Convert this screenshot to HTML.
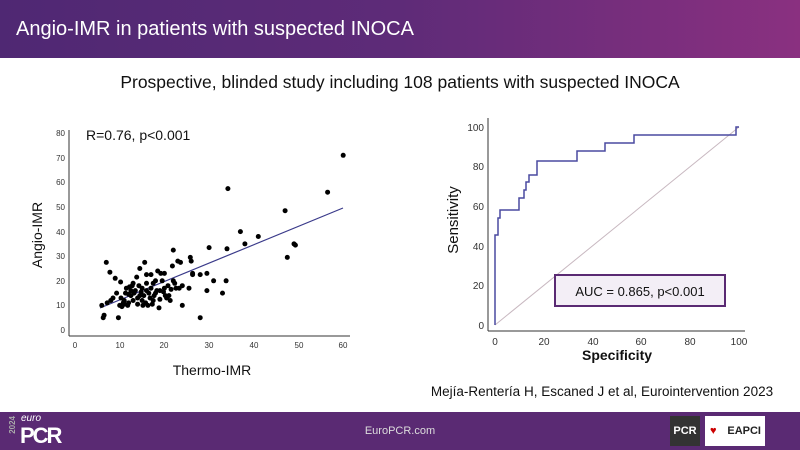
<!DOCTYPE html>
<html><head><meta charset="utf-8"><style>
body{margin:0;width:800px;height:450px;overflow:hidden;background:#fff;font-family:"Liberation Sans",sans-serif;position:relative}
.hdr{position:absolute;left:0;top:0;width:800px;height:58px;background:linear-gradient(90deg,#4f2873 0%,#5e2b78 50%,#8a3080 100%)}
.hdr span{position:absolute;left:16px;top:18px;color:#fff;font-size:20px}
.sub{position:absolute;left:0;width:800px;text-align:center;top:72px;font-size:17.5px;color:#111}
.ft{position:absolute;left:0;top:412px;width:800px;height:38px;background:#5a2a73}
</style></head><body>
<div class="hdr"><span>Angio-IMR in patients with suspected INOCA</span></div>
<div class="sub">Prospective, blinded study including 108 patients with suspected INOCA</div>
<svg width="800" height="450" style="position:absolute;left:0;top:0">
<g font-family="Liberation Sans" font-size="8" fill="#333">
<line x1="69" y1="130" x2="69" y2="336" stroke="#333"/>
<line x1="69" y1="336" x2="350" y2="336" stroke="#333"/>
<g text-anchor="end">
<text x="65" y="333">0</text><text x="65" y="308">10</text><text x="65" y="284">20</text><text x="65" y="259">30</text><text x="65" y="235">40</text><text x="65" y="210">50</text><text x="65" y="185">60</text><text x="65" y="161">70</text><text x="65" y="136">80</text></g>
<g text-anchor="middle">
<text x="75" y="348">0</text><text x="120" y="348">10</text><text x="164" y="348">20</text><text x="209" y="348">30</text><text x="254" y="348">40</text><text x="299" y="348">50</text><text x="343" y="348">60</text></g>
</g>
<text x="86" y="140" font-size="14" fill="#111">R=0.76, p&lt;0.001</text>
<text x="212" y="375" font-size="14" text-anchor="middle" fill="#111">Thermo-IMR</text>
<text transform="translate(42,235) rotate(-90)" font-size="14" text-anchor="middle" fill="#111">Angio-IMR</text>
<line x1="100" y1="308" x2="343" y2="208" stroke="#3a3a8a" stroke-width="1.2"/>
<g fill="#000" id="pts"></g>
<g font-family="Liberation Sans" font-size="10" fill="#333">
<line x1="488" y1="118" x2="488" y2="331" stroke="#333"/>
<line x1="488" y1="331" x2="745" y2="331" stroke="#333"/>
<g text-anchor="end"><text x="484" y="329">0</text><text x="484" y="289">20</text><text x="484" y="250">40</text><text x="484" y="210">60</text><text x="484" y="170">80</text><text x="484" y="131">100</text></g>
<g text-anchor="middle"><text x="495" y="345">0</text><text x="544" y="345">20</text><text x="593" y="345">40</text><text x="641" y="345">60</text><text x="690" y="345">80</text><text x="739" y="345">100</text></g>
</g>
<text x="617" y="360" font-size="14" font-weight="bold" text-anchor="middle" fill="#111">Specificity</text>
<text transform="translate(458,220) rotate(-90)" font-size="15" text-anchor="middle" fill="#111">Sensitivity</text>
<line x1="495" y1="325" x2="739" y2="127" stroke="#c8b8c0"/>
<polyline fill="none" stroke="#4a4aa0" stroke-width="1.5" points="495,325 495,235 498,235 498,218 500,218 500,210 519,210 519,198 524,198 524,190 526,190 526,182 529,182 529,175 537,175 537,161 577,161 577,151 605,151 605,143 634,143 634,135 736,135 736,127 739,127"/>
<rect x="555" y="275" width="170" height="31" fill="#f3eef6" stroke="#5a2a73" stroke-width="2"/>
<text x="640" y="296" font-size="13" text-anchor="middle" fill="#111">AUC = 0.865, p&lt;0.001</text>
<text x="602" y="396" font-size="13.5" text-anchor="middle" fill="#111">Mejía-Rentería H, Escaned J et al, Eurointervention 2023</text>
</svg>
<div class="ft">
<div style="position:absolute;left:8px;top:4px;color:#aaa;font-size:8px;writing-mode:vertical-rl;transform:rotate(180deg);font-weight:bold">2024</div>
<div style="position:absolute;left:21px;top:1px;color:#fff;font-size:10px;font-style:italic">euro</div>
<div style="position:absolute;left:20px;top:11px;color:#fff;font-size:22px;font-weight:bold;letter-spacing:-2px">PCR</div>
<div style="position:absolute;left:0;width:800px;top:13px;text-align:center;color:#ddd;font-size:11px">EuroPCR.com</div>
<div style="position:absolute;left:670px;top:4px;width:30px;height:30px;background:#333;color:#fff;font-size:11px;font-weight:bold;line-height:30px;text-align:center">PCR</div>
<div style="position:absolute;left:705px;top:4px;width:60px;height:30px;background:#fff;color:#222;font-size:11px;font-weight:bold;line-height:30px;text-align:right;padding-right:4px;box-sizing:border-box"><span style="color:#c00;float:left;margin-left:5px">♥</span>EAPCI</div>
</div>
<script>
var d=[[6,10],[6.3,5],[6.5,6],[7,27.5],[7.2,11],[7.8,23.5],[8,12],[8.5,13],[9,21],[9.3,15],[9.7,5],[10,10],[10.2,19.5],[10.3,13],[10.5,9.5],[10.8,11],[11,12],[11.3,15],[11.5,17],[11.8,10],[12,11],[12.2,17.5],[12.5,16],[12.8,18],[13,19],[13.2,15],[13.5,16],[13.8,21.5],[14,13],[14,10.5],[14.3,18],[14.5,25],[14.8,15.5],[15,17],[15.2,10],[15.4,14],[15.6,27.5],[15.8,11],[16,16],[16,22.5],[16.3,10],[16.5,15],[16.8,13],[17,22.5],[17,17],[17.3,10.5],[17.5,19],[17.7,14],[18,15],[18.3,16],[18.5,24],[18.8,9],[19,12.5],[19.2,23],[19.5,20],[19.8,15.5],[20,23],[20.2,14],[20.5,13],[20.8,18],[21,14],[21.3,12],[21.5,16.5],[21.8,26],[22,32.5],[22,20],[22.3,19],[22.6,17],[23,28],[23.3,17],[23.6,27.5],[24,10],[24,18],[25.5,17],[25.8,29.5],[26,28],[26.3,23],[26.3,22.5],[28,5],[28,22.5],[29.5,23],[29.5,16],[30,33.5],[31,20],[33,15],[33.8,20],[34,33],[34.2,57.5],[37,40],[38,35],[41,38],[47,48.5],[47.5,29.5],[49,35],[49.3,34.5],[56.5,56],[60,71],[12.5,14],[13,12],[11,10.5],[15,12],[17.5,12],[19,16],[18,20],[14.5,14],[16,19],[20,17],[12,14.5]];
var g=document.getElementById('pts'),s='';
d.forEach(function(p){s+='<circle cx="'+(75+p[0]*4.47).toFixed(1)+'" cy="'+(330-p[1]*2.46).toFixed(1)+'" r="2.5"/>';});
g.innerHTML=s;
</script>
</body></html>
